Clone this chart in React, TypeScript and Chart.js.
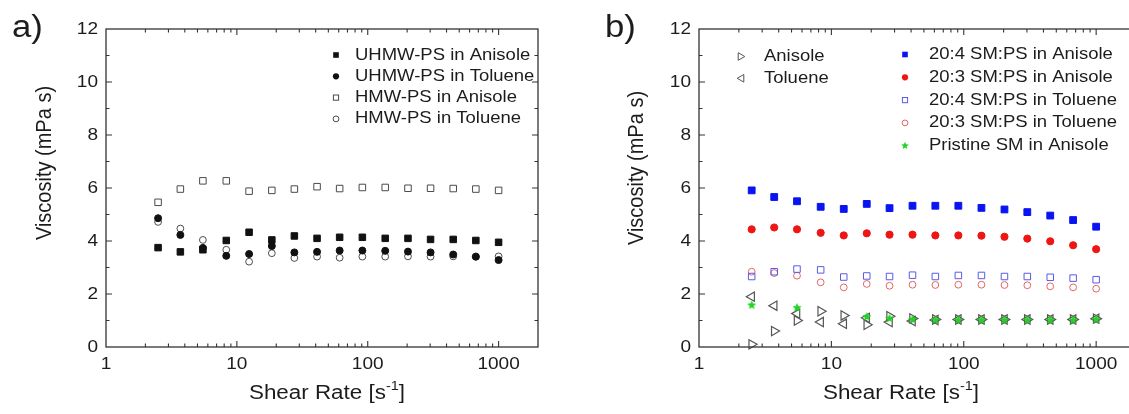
import React, { useEffect, useRef } from 'react';
import { Chart, registerables } from 'chart.js';

Chart.register(...registerables);

const FONT = '"Liberation Sans", Arial, Helvetica, sans-serif';
const TEXT = '#1c1c1c';
const AXIS = '#333333';
const SX = 1.12;

// ---------- data ----------
const shearRate = [2.5, 3.7, 5.5, 8.3, 12.4, 18.5, 27.5, 41, 61, 91, 136, 203, 302, 450, 670, 1000];

// panel a
const uhmwAnisole = [3.75, 3.59, 3.67, 4.02, 4.33, 4.04, 4.19, 4.1, 4.14, 4.14, 4.1, 4.1, 4.06, 4.06, 4.02, 3.95];
const uhmwToluene = [4.86, 4.23, 3.74, 3.44, 3.51, 3.81, 3.57, 3.59, 3.64, 3.64, 3.63, 3.6, 3.57, 3.49, 3.41, 3.28];
const hmwAnisole = [5.46, 5.96, 6.27, 6.27, 5.88, 5.91, 5.96, 6.05, 5.98, 6.02, 6.02, 5.99, 5.99, 5.98, 5.96, 5.91];
const hmwToluene = [4.72, 4.47, 4.04, 3.67, 3.22, 3.54, 3.36, 3.41, 3.37, 3.41, 3.41, 3.42, 3.41, 3.42, 3.41, 3.42];

// panel b
const sm204Anisole = [5.91, 5.66, 5.5, 5.29, 5.21, 5.4, 5.24, 5.33, 5.33, 5.33, 5.25, 5.19, 5.09, 4.96, 4.79, 4.54];
const sm203Anisole = [4.44, 4.51, 4.44, 4.31, 4.21, 4.29, 4.24, 4.24, 4.21, 4.21, 4.2, 4.16, 4.09, 3.99, 3.84, 3.69];
const sm204Toluene = [2.66, 2.84, 2.94, 2.91, 2.64, 2.68, 2.66, 2.71, 2.66, 2.7, 2.7, 2.66, 2.66, 2.63, 2.6, 2.54];
const sm203Toluene = [2.84, 2.79, 2.69, 2.44, 2.25, 2.38, 2.31, 2.35, 2.34, 2.35, 2.35, 2.34, 2.33, 2.29, 2.25, 2.2];
const pristineAnisole = [1.6, null, 1.5, null, null, 1.16, 1.1, 1.06, 1.04, 1.04, 1.04, 1.04, 1.04, 1.04, 1.04, 1.07];
const anisoleSolvent = [0.1, 0.6, 1.0, 1.35, 1.19, 0.84, 1.16, 1.08, 1.04, 1.04, 1.04, 1.04, 1.04, 1.04, 1.04, 1.07];
const tolueneSolvent = [1.9, 1.56, 1.26, 0.94, 0.875, 1.1, 0.94, 0.98, 1.02, 1.04, 1.04, 1.04, 1.04, 1.04, 1.04, 1.07];

// labels / ticks
const panelALabels = ['UHMW-PS in Anisole', 'UHMW-PS in Toluene', 'HMW-PS in Anisole', 'HMW-PS in Toluene'];
const panelBSolventLabels = ['Anisole', 'Toluene'];
const panelBLabels = [
  '20:4 SM:PS in Anisole',
  '20:3 SM:PS in Anisole',
  '20:4 SM:PS in Toluene',
  '20:3 SM:PS in Toluene',
  'Pristine SM in Anisole',
];
const xTickValues = [1, 10, 100, 1000];
const yTickValues = [0, 2, 4, 6, 8, 10, 12];
const yAxisTitle = 'Viscosity (mPa s)';
const xAxisTitle = 'Shear Rate [s';
const xAxisTitleSup = '-1';

// ---------- helpers ----------
const toPoints = (ys: (number | null)[]) =>
  shearRate.map((x, i) => ({ x, y: ys[i] })).filter((p) => p.y !== null) as { x: number; y: number }[];

function drawText(ctx: CanvasRenderingContext2D, s: string, x: number, y: number, size: number, align: string, baseline: CanvasTextBaseline = 'middle', sx = SX) {
  ctx.save();
  ctx.font = `${size}px ${FONT}`;
  ctx.fillStyle = TEXT;
  const w = ctx.measureText(s).width * sx;
  const x0 = align === 'left' ? x : align === 'right' ? x - w : x - w / 2;
  ctx.translate(x0, y);
  ctx.scale(sx, 1);
  ctx.textAlign = 'left';
  ctx.textBaseline = baseline;
  ctx.fillText(s, 0, 0);
  ctx.restore();
  return w;
}

function starPath(ctx: CanvasRenderingContext2D, cx: number, cy: number, ro: number, ri: number) {
  ctx.beginPath();
  for (let i = 0; i < 10; i++) {
    const r = i % 2 === 0 ? ro : ri;
    const a = -Math.PI / 2 + (i * Math.PI) / 5;
    const px = cx + Math.cos(a) * r;
    const py = cy + Math.sin(a) * r;
    if (i === 0) ctx.moveTo(px, py);
    else ctx.lineTo(px, py);
  }
  ctx.closePath();
}

function makeStar(color: string, ro: number) {
  const c = document.createElement('canvas');
  const size = Math.ceil(ro * 2 + 4);
  c.width = size;
  c.height = size;
  const g = c.getContext('2d')!;
  starPath(g, size / 2, size / 2 + 0.5, ro, ro * 0.45);
  g.fillStyle = color;
  g.fill();
  return c;
}

function drawMarker(ctx: CanvasRenderingContext2D, kind: string, x: number, y: number, color: string) {
  ctx.save();
  ctx.lineWidth = 1;
  ctx.strokeStyle = color;
  ctx.fillStyle = color;
  if (kind === 'sqF') {
    ctx.fillRect(x - 2.8, y - 2.8, 5.6, 5.6);
  } else if (kind === 'sqO') {
    ctx.strokeRect(x - 2.6, y - 2.6, 5.2, 5.2);
  } else if (kind === 'ciF') {
    ctx.beginPath();
    ctx.arc(x, y, 3.1, 0, Math.PI * 2);
    ctx.fill();
  } else if (kind === 'ciO') {
    ctx.beginPath();
    ctx.arc(x, y, 2.9, 0, Math.PI * 2);
    ctx.stroke();
  } else if (kind === 'triR' || kind === 'triL') {
    const d = kind === 'triR' ? 1 : -1;
    ctx.beginPath();
    ctx.moveTo(x + d * 3.8, y);
    ctx.lineTo(x - d * 2.8, y - 3.8);
    ctx.lineTo(x - d * 2.8, y + 3.8);
    ctx.closePath();
    ctx.stroke();
  } else if (kind === 'star') {
    starPath(ctx, x, y, 4, 1.8);
    ctx.fill();
  }
  ctx.restore();
}

type LegendGroup = { markerX: number; textX: number; y0: number; dy: number; items: { label: string; kind: string; color: string }[] };
type PanelOpts = {
  label: string;
  labelX: number;
  yTitleX: number;
  yTitleY: number;
  xTitleX: number;
  legends: LegendGroup[];
};

const panelPlugin = {
  id: 'panelDecor',
  afterDraw(chart: any) {
    const opts: PanelOpts = chart.options.plugins.panelDecor;
    const ctx: CanvasRenderingContext2D = chart.ctx;
    const { left, right, top, bottom } = chart.chartArea;
    const xs = chart.scales.x;
    const ys = chart.scales.y;
    ctx.save();
    // frame
    ctx.strokeStyle = AXIS;
    ctx.lineWidth = 1.3;
    ctx.strokeRect(left, top, right - left, bottom - top);
    // ticks
    ctx.lineWidth = 1.1;
    ctx.beginPath();
    const vline = (p: number, len: number) => {
      ctx.moveTo(p, bottom);
      ctx.lineTo(p, bottom - len);
      ctx.moveTo(p, top);
      ctx.lineTo(p, top + len);
    };
    const hline = (p: number, len: number) => {
      ctx.moveTo(left, p);
      ctx.lineTo(left + len, p);
      ctx.moveTo(right, p);
      ctx.lineTo(right - len, p);
    };
    for (const v of xTickValues) {
      if (v > xs.min && v < xs.max) vline(xs.getPixelForValue(v), 6);
      for (let m = 2; m <= 9; m++) {
        const mv = v * m;
        if (mv < xs.max) vline(xs.getPixelForValue(mv), 3.5);
      }
    }
    for (const v of yTickValues) {
      if (v > ys.min && v < ys.max) hline(ys.getPixelForValue(v), 6);
      const mv = v + 1;
      if (mv < ys.max) hline(ys.getPixelForValue(mv), 3.5);
    }
    ctx.stroke();
    ctx.restore();

    // tick labels
    for (const v of xTickValues) {
      drawText(ctx, String(v), xs.getPixelForValue(v), 364.5, 17, 'center');
    }
    for (const v of yTickValues) {
      drawText(ctx, String(v), left - 8, ys.getPixelForValue(v), 17, 'right');
    }

    // x title with superscript
    ctx.save();
    ctx.font = `20px ${FONT}`;
    const wMain = ctx.measureText(xAxisTitle).width * SX;
    ctx.font = `13px ${FONT}`;
    const wSup = ctx.measureText(xAxisTitleSup).width * SX;
    ctx.font = `20px ${FONT}`;
    const wEnd = ctx.measureText(']').width * SX;
    ctx.restore();
    const total = wMain + wSup + wEnd;
    let tx = opts.xTitleX - total / 2;
    drawText(ctx, xAxisTitle, tx, 399, 20, 'left', 'alphabetic');
    tx += wMain;
    drawText(ctx, xAxisTitleSup, tx, 390, 13, 'left', 'alphabetic');
    tx += wSup;
    drawText(ctx, ']', tx, 399, 20, 'left', 'alphabetic');

    // y title (rotated)
    ctx.save();
    ctx.translate(opts.yTitleX, opts.yTitleY);
    ctx.rotate(-Math.PI / 2);
    ctx.scale(1, SX);
    ctx.font = `20px ${FONT}`;
    ctx.fillStyle = TEXT;
    ctx.textAlign = 'center';
    ctx.textBaseline = 'middle';
    ctx.fillText(yAxisTitle, 0, 0);
    ctx.restore();

    // panel label
    drawText(ctx, opts.label, opts.labelX, 37, 31, 'left', 'alphabetic');

    // legends
    for (const g of opts.legends) {
      g.items.forEach((it, i) => {
        const y = g.y0 + i * g.dy;
        drawMarker(ctx, it.kind, g.markerX, y, it.color);
        drawText(ctx, it.label, g.textX, y, 16.5, 'left');
      });
    }
  },
};

function scalesFor(yWidth: number) {
  return {
    x: {
      type: 'logarithmic',
      min: 1,
      max: 2000,
      grid: { display: false },
      border: { display: false },
      ticks: { display: false },
      afterFit: (s: any) => {
        s.height = 67;
      },
    },
    y: {
      type: 'linear',
      min: 0,
      max: 12,
      grid: { display: false },
      border: { display: false },
      ticks: { display: false },
      afterFit: (s: any) => {
        s.width = yWidth;
      },
    },
  };
}

function baseOptions(yWidth: number, rightPad: number, decor: PanelOpts) {
  return {
    responsive: false,
    animation: false,
    events: [],
    layout: { autoPadding: false, padding: { left: 0, right: rightPad, top: 29, bottom: 0 } },
    scales: scalesFor(yWidth),
    plugins: {
      legend: { display: false },
      tooltip: { enabled: false },
      panelDecor: decor,
    },
  };
}

const BLACK = '#111111';
const GRAY_OPEN = '#4a4a4a';
const BLUE = '#0a14f0';
const RED = '#ee1515';
const BLUE_OPEN = '#5a5ae6';
const RED_OPEN = '#e26464';
const TRI = '#555555';
const GREEN = '#22d422';

export default function App() {
  const refA = useRef<HTMLCanvasElement>(null);
  const refB = useRef<HTMLCanvasElement>(null);

  useEffect(() => {
    const star = makeStar(GREEN, 4.8);

    const chartA = new Chart(refA.current!, {
      type: 'scatter',
      data: {
        datasets: [
          { label: panelALabels[0], data: toPoints(uhmwAnisole), pointStyle: 'rect', pointRadius: 4.6, backgroundColor: BLACK, borderColor: BLACK, borderWidth: 1, clip: false },
          { label: panelALabels[1], data: toPoints(uhmwToluene), pointStyle: 'circle', pointRadius: 3.5, backgroundColor: BLACK, borderColor: BLACK, borderWidth: 1, clip: false },
          { label: panelALabels[2], data: toPoints(hmwAnisole), pointStyle: 'rect', pointRadius: 4.6, backgroundColor: 'rgba(255,255,255,0)', borderColor: GRAY_OPEN, borderWidth: 1, clip: false },
          { label: panelALabels[3], data: toPoints(hmwToluene), pointStyle: 'circle', pointRadius: 3.4, backgroundColor: 'rgba(255,255,255,0)', borderColor: GRAY_OPEN, borderWidth: 1, clip: false },
        ],
      },
      options: baseOptions(106, 22, {
        label: 'a)',
        labelX: 12,
        yTitleX: 45,
        yTitleY: 163,
        xTitleX: 327,
        legends: [
          {
            markerX: 336,
            textX: 355,
            y0: 55,
            dy: 21.3,
            items: [
              { label: panelALabels[0], kind: 'sqF', color: BLACK },
              { label: panelALabels[1], kind: 'ciF', color: BLACK },
              { label: panelALabels[2], kind: 'sqO', color: GRAY_OPEN },
              { label: panelALabels[3], kind: 'ciO', color: GRAY_OPEN },
            ],
          },
        ],
      }) as any,
      plugins: [panelPlugin],
    } as any);

    const chartB = new Chart(refB.current!, {
      type: 'scatter',
      data: {
        datasets: [
          { label: panelBLabels[0], data: toPoints(sm204Anisole), pointStyle: 'rect', pointRadius: 4.8, backgroundColor: BLUE, borderColor: BLUE, borderWidth: 1, clip: false },
          { label: panelBLabels[1], data: toPoints(sm203Anisole), pointStyle: 'circle', pointRadius: 3.6, backgroundColor: RED, borderColor: RED, borderWidth: 1, clip: false },
          { label: panelBLabels[2], data: toPoints(sm204Toluene), pointStyle: 'rect', pointRadius: 4.6, backgroundColor: 'rgba(255,255,255,0)', borderColor: BLUE_OPEN, borderWidth: 1, clip: false },
          { label: panelBLabels[3], data: toPoints(sm203Toluene), pointStyle: 'circle', pointRadius: 3.4, backgroundColor: 'rgba(255,255,255,0)', borderColor: RED_OPEN, borderWidth: 1, clip: false },
          { label: panelBLabels[4], data: toPoints(pristineAnisole), pointStyle: star, pointRadius: 4, backgroundColor: GREEN, borderColor: GREEN, clip: false },
          { label: panelBSolventLabels[0], data: toPoints(anisoleSolvent), pointStyle: 'triangle', rotation: 90, pointRadius: 5.4, backgroundColor: 'rgba(255,255,255,0)', borderColor: TRI, borderWidth: 1.2, clip: false },
          { label: panelBSolventLabels[1], data: toPoints(tolueneSolvent), pointStyle: 'triangle', rotation: -90, pointRadius: 5.4, backgroundColor: 'rgba(255,255,255,0)', borderColor: TRI, borderWidth: 1.2, clip: false },
        ],
      },
      options: baseOptions(99, 9, {
        label: 'b)',
        labelX: 5,
        yTitleX: 37,
        yTitleY: 168,
        xTitleX: 301,
        legends: [
          {
            markerX: 141,
            textX: 164,
            y0: 56.5,
            dy: 21.8,
            items: [
              { label: panelBSolventLabels[0], kind: 'triR', color: TRI },
              { label: panelBSolventLabels[1], kind: 'triL', color: TRI },
            ],
          },
          {
            markerX: 305,
            textX: 329,
            y0: 54.5,
            dy: 22.8,
            items: [
              { label: panelBLabels[0], kind: 'sqF', color: BLUE },
              { label: panelBLabels[1], kind: 'ciF', color: RED },
              { label: panelBLabels[2], kind: 'sqO', color: BLUE_OPEN },
              { label: panelBLabels[3], kind: 'ciO', color: RED_OPEN },
              { label: panelBLabels[4], kind: 'star', color: GREEN },
            ],
          },
        ],
      }) as any,
      plugins: [panelPlugin],
    } as any);

    return () => {
      chartA.destroy();
      chartB.destroy();
    };
  }, []);

  return (
    <div style={{ position: 'absolute', left: 0, top: 0, width: 1129, height: 414, overflow: 'hidden', background: '#fff' }}>
      <canvas ref={refA} width={560} height={414} style={{ position: 'absolute', left: 0, top: 0, width: 560, height: 414 }} />
      <canvas ref={refB} width={545} height={414} style={{ position: 'absolute', left: 600, top: 0, width: 545, height: 414 }} />
    </div>
  );
}
